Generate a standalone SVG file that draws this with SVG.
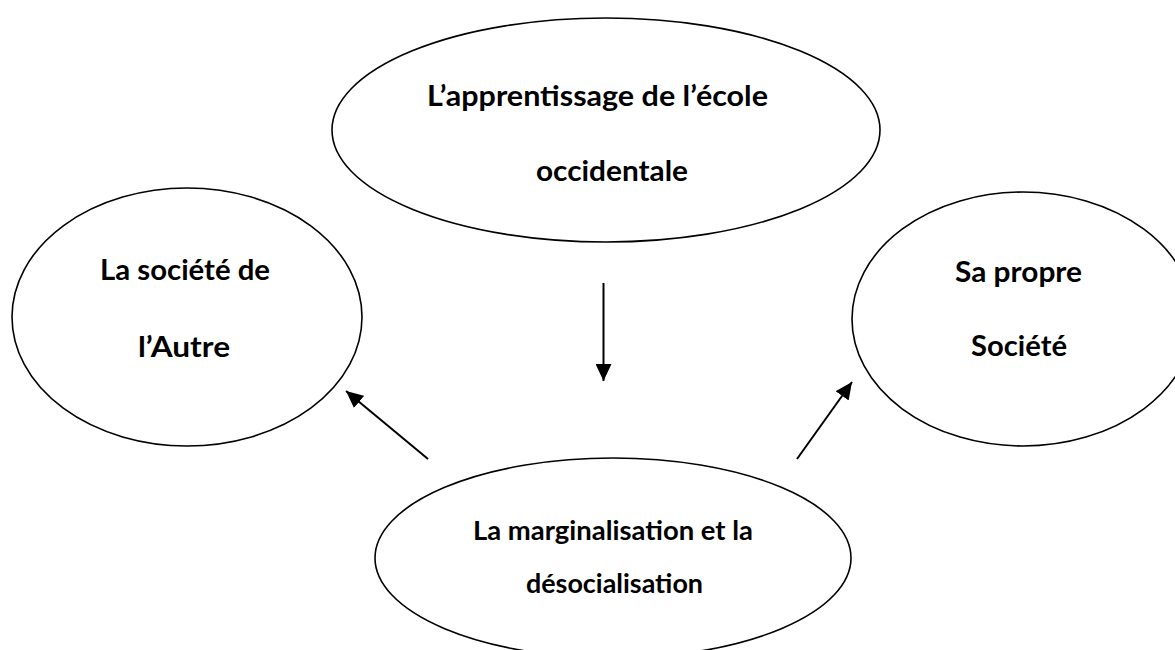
<svg xmlns="http://www.w3.org/2000/svg" width="1175" height="650" viewBox="0 0 1175 650">
<style>
.node ellipse{fill:#fff;stroke:#000;stroke-width:1.6}
.t{font-family:Lato,"Liberation Sans",sans-serif;font-weight:bold;font-size:29px;fill:#000}
.b{font-size:26.5px}
.conn line{stroke:#000;stroke-width:2}
</style>
<defs>
<marker id="ah" markerUnits="userSpaceOnUse" markerWidth="18" markerHeight="16" viewBox="0 0 18 16" refX="17" refY="8" orient="auto">
<path d="M0,0 L17,8 L0,16 Z" fill="#000"/>
</marker>
</defs>
<rect width="1175" height="650" fill="#fff"/>
<g id="n-apprentissage" class="node">
<ellipse cx="606" cy="130" rx="274" ry="112"/>
<text class="t" x="427" y="106" textLength="341" lengthAdjust="spacingAndGlyphs">L’apprentissage de l’école</text>
<text class="t" x="536" y="181" textLength="152" lengthAdjust="spacingAndGlyphs">occidentale</text>
</g>
<g id="n-autre" class="node">
<ellipse cx="187" cy="317" rx="175" ry="129"/>
<text class="t" x="100" y="280" textLength="170" lengthAdjust="spacingAndGlyphs">La société de</text>
<text class="t" x="138" y="357" textLength="92" lengthAdjust="spacingAndGlyphs">l’Autre</text>
</g>
<g id="n-propre" class="node">
<ellipse cx="1023" cy="319" rx="171" ry="127"/>
<text class="t" x="955" y="282" textLength="127" lengthAdjust="spacingAndGlyphs">Sa propre</text>
<text class="t" x="971" y="356" textLength="96" lengthAdjust="spacingAndGlyphs">Société</text>
</g>
<g id="n-marginalisation" class="node">
<ellipse cx="613" cy="558" rx="238" ry="100"/>
<text class="t b" x="473" y="540" textLength="280" lengthAdjust="spacingAndGlyphs">La marginalisation et la</text>
<text class="t b" x="526" y="593" textLength="177" lengthAdjust="spacingAndGlyphs">désocialisation</text>
</g>
<g id="connectors" class="conn">
<line x1="603.5" y1="283" x2="603.5" y2="381" marker-end="url(#ah)"/>
<line x1="428" y1="459" x2="346" y2="391" marker-end="url(#ah)"/>
<line x1="797" y1="459" x2="852" y2="382" marker-end="url(#ah)"/>
</g>
</svg>
